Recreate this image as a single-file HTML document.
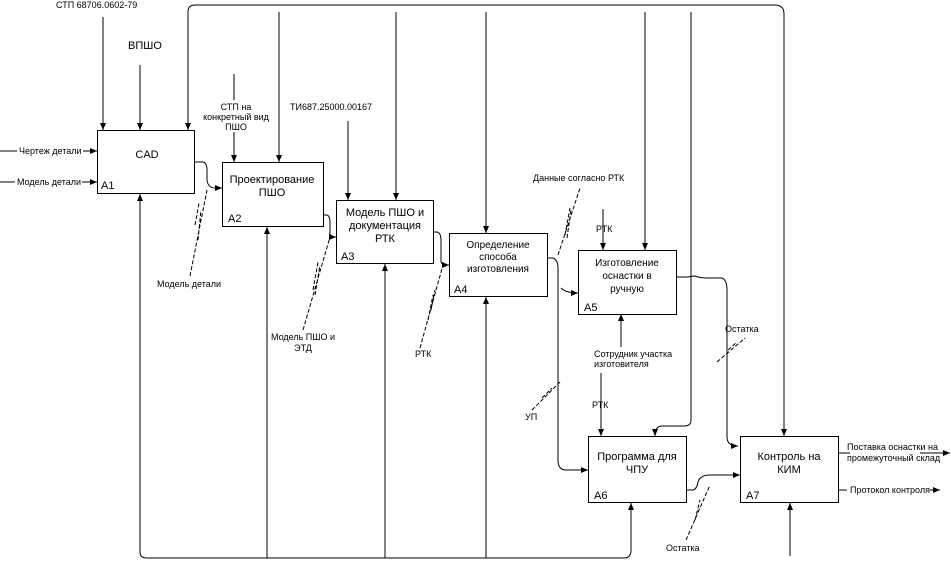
<!DOCTYPE html>
<html><head><meta charset="utf-8"><style>
html,body{margin:0;padding:0;background:#fff;width:951px;height:565px;overflow:hidden}
svg{display:block}
text{font-family:"Liberation Sans","DejaVu Sans",sans-serif;fill:#000}
.s{font-size:9px}
.m{font-size:11px}
</style></head><body>
<svg width="951" height="565" viewBox="0 0 951 565" xmlns="http://www.w3.org/2000/svg">
<defs><marker id="a" markerWidth="8" markerHeight="8" refX="7" refY="4" orient="auto" markerUnits="userSpaceOnUse"><path d="M0,1 L7,4 L0,7 z" fill="#000"/></marker></defs>
<g fill="none" stroke="#000" stroke-width="1">
<rect x="97.5" y="130.5" width="97" height="63"/>
<rect x="222.5" y="162.5" width="101" height="64"/>
<rect x="336.5" y="200.5" width="97" height="63"/>
<rect x="449.5" y="233.5" width="98" height="63"/>
<rect x="578.5" y="250.5" width="98" height="64"/>
<rect x="588.5" y="436.5" width="98" height="66"/>
<rect x="740.5" y="436.5" width="98" height="66"/>
<!-- top bus -->
<path d="M188,12 V130" marker-end="url(#a)"/>
<path d="M188,12 Q188,5 195,5 H775 Q784,5 784,14 V436" marker-end="url(#a)"/>
<path d="M279,12 V162" marker-end="url(#a)"/>
<path d="M396,12 V200" marker-end="url(#a)"/>
<path d="M486,12 V233" marker-end="url(#a)"/>
<path d="M645,12 V250" marker-end="url(#a)"/>
<path d="M691,12 V420 Q691,426 684,426 H662 Q655,426 655,436" marker-end="url(#a)"/>
<!-- bottom bus -->
<path d="M140,552 V194" marker-end="url(#a)"/>
<path d="M140,552 Q140,558 147,558 H624 Q631,558 631,550 V503" marker-end="url(#a)"/>
<path d="M267,558 V227" marker-end="url(#a)"/>
<path d="M385,558 V264" marker-end="url(#a)"/>
<path d="M486,558 V297" marker-end="url(#a)"/>
<path d="M790,556 V503" marker-end="url(#a)"/>
<!-- A1 controls/inputs -->
<path d="M103,17 V130" marker-end="url(#a)"/>
<path d="M140,65 V130" marker-end="url(#a)"/>
<path d="M0,151 H17 M83,151 H97" marker-end="url(#a)"/>
<path d="M0,182 H15 M82,182 H97" marker-end="url(#a)"/>
<path d="M234,74 V100 M234,132 V162" marker-end="url(#a)"/>
<path d="M348,121 V200" marker-end="url(#a)"/>
<path d="M603,209 V250" marker-end="url(#a)"/>
<path d="M601,373 V436" marker-end="url(#a)"/>
<path d="M621,347 V314" marker-end="url(#a)"/>
<!-- flows -->
<path d="M194,162 H203 Q207,163 207,170 V180 Q208,188 215,188 H222" marker-end="url(#a)"/>
<path d="M323,215 H327 Q330,216 330,222 V234 Q331,237 336,237" marker-end="url(#a)"/>
<path d="M433,232 H437 Q441,233 441,240 V262 Q442,265 449,265" marker-end="url(#a)"/>
<path d="M547,258 H553 Q558,260 558,268 V460 Q558,470 566,470 H588" marker-end="url(#a)"/>
<path d="M561,288 Q566,293 578,293" marker-end="url(#a)"/>
<path d="M676,277 H688 Q692,276 695,276 Q700,278 707,278 H722 Q727,280 727,290 V437 Q727,446 738,446" marker-end="url(#a)"/>
<path d="M686,490 H693 Q697,489 698,482 Q700,475 710,475 H740" marker-end="url(#a)"/>
<path d="M838,453 H850 M920,453 H950" marker-end="url(#a)"/>
<path d="M838,490 H847 M930,490 H940" marker-end="url(#a)"/>
<!-- squiggle leaders -->
<path d="M190,276 L207,190 M198,240 L201,210 M195,225 L199,203" stroke-dasharray="4,2"/>
<path d="M303,330 L330,237 M313,290 L318,262 M315,295 L320,265" stroke-dasharray="4,2"/>
<path d="M420,348 L443,265 M431,310 L435,290 M428,320 L433,295" stroke-dasharray="4,2"/>
<path d="M558,255 L580,188 M565,235 L570,208 M567,238 L571,210" stroke-dasharray="4,2"/>
<path d="M532,410 L560,382 M542,398 L552,388" stroke-dasharray="4,2"/>
<path d="M717,362 L745,338 M728,350 L737,342" stroke-dasharray="4,2"/>
<path d="M686,540 L710,485 M695,520 L700,500" stroke-dasharray="4,2"/>
</g>
<g class="s">
<text x="56" y="8">СТП 68706.0602-79</text>
<text x="19" y="154">Чертеж детали</text>
<text x="17" y="185">Модель детали</text>
<text x="236" y="110" text-anchor="middle">СТП на</text>
<text x="236" y="120" text-anchor="middle">конкретный вид</text>
<text x="236" y="130" text-anchor="middle">ПШО</text>
<text x="290" y="110">ТИ687.25000.00167</text>
<text x="157" y="287">Модель детали</text>
<text x="303" y="340" text-anchor="middle">Модель ПШО и</text>
<text x="303" y="351" text-anchor="middle">ЭТД</text>
<text x="415" y="357">РТК</text>
<text x="533" y="181">Данные согласно РТК</text>
<text x="596" y="232">РТК</text>
<text x="594" y="357">Сотрудник участка</text>
<text x="594" y="367">изготовителя</text>
<text x="592" y="408">РТК</text>
<text x="525" y="420">УП</text>
<text x="725" y="332">Остатка</text>
<text x="666" y="551">Остатка</text>
<text x="847" y="450">Поставка оснастки на</text>
<text x="847" y="461">промежуточный склад</text>
<text x="850" y="493">Протокол контроля</text>
</g>
<g class="m" text-anchor="middle">
<text x="145" y="49">ВПШО</text>
<text x="147" y="158">CAD</text>
<text x="272" y="183">Проектирование</text>
<text x="272" y="196">ПШО</text>
<text x="385" y="216">Модель ПШО и</text>
<text x="385" y="229">документация</text>
<text x="385" y="242">РТК</text>
<text x="498" y="248" font-size="10">Определение</text>
<text x="498" y="260" font-size="10">способа</text>
<text x="498" y="272" font-size="10">изготовления</text>
<text x="627" y="266" font-size="10">Изготовление</text>
<text x="627" y="279" font-size="10">оснастки в</text>
<text x="627" y="292" font-size="10">ручную</text>
<text x="637" y="460">Программа для</text>
<text x="637" y="473">ЧПУ</text>
<text x="789" y="460">Контроль на</text>
<text x="789" y="473">КИМ</text>
</g>
<g class="m">
<text x="101" y="189">A1</text>
<text x="228" y="222">A2</text>
<text x="341" y="260">A3</text>
<text x="454" y="293">A4</text>
<text x="584" y="311">A5</text>
<text x="594" y="499">A6</text>
<text x="746" y="499">A7</text>
</g>
</svg>
</body></html>
